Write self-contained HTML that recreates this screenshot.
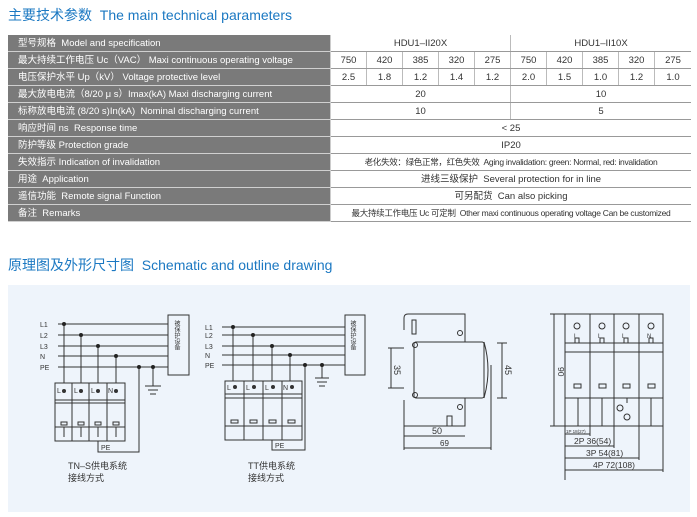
<!DOCTYPE html>
<html><head><meta charset="utf-8"><style>
body{margin:0;width:697px;height:517px;background:#fff;position:relative;overflow:hidden;font-family:"Liberation Sans","Noto Sans CJK SC",sans-serif}
.t{position:absolute;color:#1b78c2;font-size:14px;white-space:nowrap}
table{position:absolute;left:8px;top:35px;border-collapse:collapse;font-size:9.5px;color:#333}
td{height:15px;padding:1px 0 0 0;border-bottom:1px solid #999;text-align:center;white-space:nowrap;line-height:15px;vertical-align:middle}
td.h{background:#7a7a7a;color:#fff;text-align:left;padding-left:10px;width:312px;border-bottom:1px solid #d0d0d0;border-right:1px solid #ccc}
td.c{border-right:1px solid #bbb;width:35px}
td.s{font-size:8.5px;letter-spacing:-0.3px}
</style></head><body>
<div class="t" style="left:8px;top:5px">主要技术参数 &nbsp;The main technical parameters</div>
<table>
<tr><td class="h">型号规格 &nbsp;Model and specification</td><td colspan="5" style="border-right:1px solid #bbb">HDU1–II20X</td><td colspan="5">HDU1–II10X</td></tr>
<tr><td class="h">最大持续工作电压 Uc（VAC） Maxi continuous operating voltage</td><td class="c">750</td><td class="c">420</td><td class="c">385</td><td class="c">320</td><td class="c">275</td><td class="c">750</td><td class="c">420</td><td class="c">385</td><td class="c">320</td><td style="width:36px">275</td></tr>
<tr><td class="h">电压保护水平 Up（kV） Voltage protective level</td><td class="c">2.5</td><td class="c">1.8</td><td class="c">1.2</td><td class="c">1.4</td><td class="c">1.2</td><td class="c">2.0</td><td class="c">1.5</td><td class="c">1.0</td><td class="c">1.2</td><td>1.0</td></tr>
<tr><td class="h">最大放电电流（8/20 μ s）Imax(kA) Maxi discharging current</td><td colspan="5" style="border-right:1px solid #bbb">20</td><td colspan="5">10</td></tr>
<tr><td class="h">标称放电电流 (8/20 s)In(kA) &nbsp;Nominal discharging current</td><td colspan="5" style="border-right:1px solid #bbb">10</td><td colspan="5">5</td></tr>
<tr><td class="h">响应时间 ns &nbsp;Response time</td><td colspan="10">&lt; 25</td></tr>
<tr><td class="h">防护等级 Protection grade</td><td colspan="10">IP20</td></tr>
<tr><td class="h">失效指示 Indication of invalidation</td><td colspan="10" class="s">老化失效：绿色正常，红色失效 &nbsp;Aging invalidation: green: Normal, red: invalidation</td></tr>
<tr><td class="h">用途 &nbsp;Application</td><td colspan="10">进线三级保护 &nbsp;Several protection for in line</td></tr>
<tr><td class="h">遥信功能 &nbsp;Remote signal Function</td><td colspan="10">可另配货 &nbsp;Can also picking</td></tr>
<tr><td class="h">备注 &nbsp;Remarks</td><td colspan="10" class="s">最大持续工作电压 Uc 可定制 &nbsp;Other maxi continuous operating voltage Can be customized</td></tr>
</table>
<div class="t" style="left:8px;top:255px">原理图及外形尺寸图 &nbsp;Schematic and outline drawing</div>
<div style="position:absolute;left:8px;top:285px;width:682px;height:227px;background:#eef4fb"></div>
<svg style="position:absolute;left:0;top:0" width="697" height="517" font-family="Liberation Sans,Noto Sans CJK SC,sans-serif" font-size="7" fill="none" stroke="#333" stroke-width="1">
<g>
<g fill="#333" stroke="none"><text x="40" y="327">L1</text><text x="40" y="338">L2</text><text x="40" y="349">L3</text><text x="40" y="359">N</text><text x="40" y="370">PE</text></g>
<path d="M58 324H168M58 335H168M58 346H168M58 356H168M58 367H168"/>
<rect x="168" y="315" width="21" height="60"/>
<text x="176" y="320" fill="#333" stroke="none" font-size="6" writing-mode="tb">被保护设备</text>
<path d="M64 324V395M81 335V395M98 346V395M116 356V395M153 367V386M145 386H161M148 390H158M150 394H156M139 367V452H98V441"/>
<g fill="#222" stroke="none"><circle cx="64" cy="324" r="2"/><circle cx="81" cy="335" r="2"/><circle cx="98" cy="346" r="2"/><circle cx="116" cy="356" r="2"/><circle cx="139" cy="367" r="2"/><circle cx="153" cy="367" r="2"/></g>
<rect x="55" y="383" width="70" height="58" fill="#eef4fb"/>
<path d="M72 383V441M89 383V441M107 383V441M55 400H125M55 403H125M55 427H125"/>
<g fill="#333" stroke="none"><text x="57" y="393">L</text><text x="74" y="393">L</text><text x="91" y="393">L</text><text x="108" y="393">N</text><circle cx="64" cy="391" r="2"/><circle cx="81" cy="391" r="2"/><circle cx="98" cy="391" r="2"/><circle cx="116" cy="391" r="2"/><text x="101" y="450">PE</text></g>
<path d="M61 422h6v3h-6zM78 422h6v3h-6zM95 422h6v3h-6zM113 422h6v3h-6zM64 427v10M81 427v10M98 427v10M116 427v10"/>
<g fill="#333" stroke="none" font-size="9"><text x="68" y="469">TN–S供电系统</text><text x="68" y="481">接线方式</text></g>
</g>
<g>
<g fill="#333" stroke="none"><text x="205" y="330">L1</text><text x="205" y="338">L2</text><text x="205" y="349">L3</text><text x="205" y="358">N</text><text x="205" y="368">PE</text></g>
<path d="M222 327H345M222 335H345M222 346H345M222 355H345M222 365H345"/>
<rect x="345" y="315" width="20" height="60"/>
<text x="352" y="320" fill="#333" stroke="none" font-size="6" writing-mode="tb">被保护设备</text>
<path d="M233 327V392M253 335V392M272 346V392M290 355V392M322 365V378M315 378H329M317 382H327M319 386H325M305 365V450H272V440"/>
<g fill="#222" stroke="none"><circle cx="233" cy="327" r="2"/><circle cx="253" cy="335" r="2"/><circle cx="272" cy="346" r="2"/><circle cx="290" cy="355" r="2"/><circle cx="305" cy="365" r="2"/><circle cx="322" cy="365" r="2"/></g>
<rect x="225" y="381" width="77" height="59" fill="#eef4fb"/>
<path d="M244 381V440M263 381V440M282 381V440M225 394H302M225 398H302M225 426H302"/>
<g fill="#333" stroke="none"><text x="227" y="390">L</text><text x="246" y="390">L</text><text x="265" y="390">L</text><text x="283" y="390">N</text><circle cx="235" cy="387" r="2"/><circle cx="254" cy="387" r="2"/><circle cx="273" cy="387" r="2"/><circle cx="292" cy="387" r="2"/><text x="275" y="448">PE</text></g>
<path d="M231 420h7v3h-7zM250 420h7v3h-7zM269 420h7v3h-7zM288 420h7v3h-7z"/>
<g fill="#333" stroke="none" font-size="9"><text x="248" y="469">TT供电系统</text><text x="248" y="481">接线方式</text></g>
</g>
<g>
<path d="M408 314H465V342M465 398V426H404V400M404 330V318Q404 314 408 314"/>
<rect x="412" y="320" width="4" height="14"/>
<rect x="414" y="342" width="70" height="56" rx="2"/>
<path d="M484 342Q492 370 484 398M491 365V450M404 426V450"/>
<circle cx="460" cy="333" r="2.5"/><circle cx="460" cy="407" r="2.5"/><circle cx="415" cy="345" r="2.5"/><circle cx="415" cy="395" r="2.5"/>
<rect x="447" y="416" width="5" height="10"/>
<path d="M391 348V388M388 348H404M388 388H404M502 343V398M497 343H507M497 398H507M404 436H465M404 448H491"/>
<g fill="#333" stroke="none" font-size="9"><text x="432" y="434">50</text><text x="440" y="446" font-size="8">69</text><text x="394" y="365" transform="rotate(90 394 365)">35</text><text x="505" y="365" transform="rotate(90 505 365)">45</text></g>
</g>
<g>
<rect x="565" y="314" width="98" height="112"/>
<path d="M590 314V426M614 314V426M639 314V426M565 343H663M565 352H663M565 398H663"/>
<g><circle cx="577" cy="326" r="3"/><circle cx="602" cy="326" r="3"/><circle cx="626" cy="326" r="3"/><circle cx="651" cy="326" r="3"/><circle cx="627" cy="417" r="3"/><circle cx="620" cy="408" r="3"/></g>
<path d="M575 338h4v5h-4zM600 338h4v5h-4zM624 338h4v5h-4zM649 338h4v5h-4zM574 384h7v4h-7zM599 384h7v4h-7zM623 384h7v4h-7zM648 384h7v4h-7zM578 398v28M602 398v28M627 398v5M651 398v28"/>
<g fill="#333" stroke="none" font-size="6"><text x="574" y="338">L</text><text x="598" y="338">L</text><text x="622" y="338">L</text><text x="647" y="338">N</text><text x="566" y="433" font-size="4.5">1P 18(27)</text></g>
<path d="M554 314V426M550 314H565M550 426H565M565 426V480M590 426V436M614 426V448M639 426V460M663 426V472M565 434H590M565 446H614M565 458H639M565 470H663"/>
<g fill="#333" stroke="none" font-size="8.5"><text x="558" y="367" transform="rotate(90 558 367)">90</text><text x="574" y="444">2P 36(54)</text><text x="586" y="456">3P 54(81)</text><text x="593" y="468">4P 72(108)</text></g>
</g>
</svg>
</body></html>
